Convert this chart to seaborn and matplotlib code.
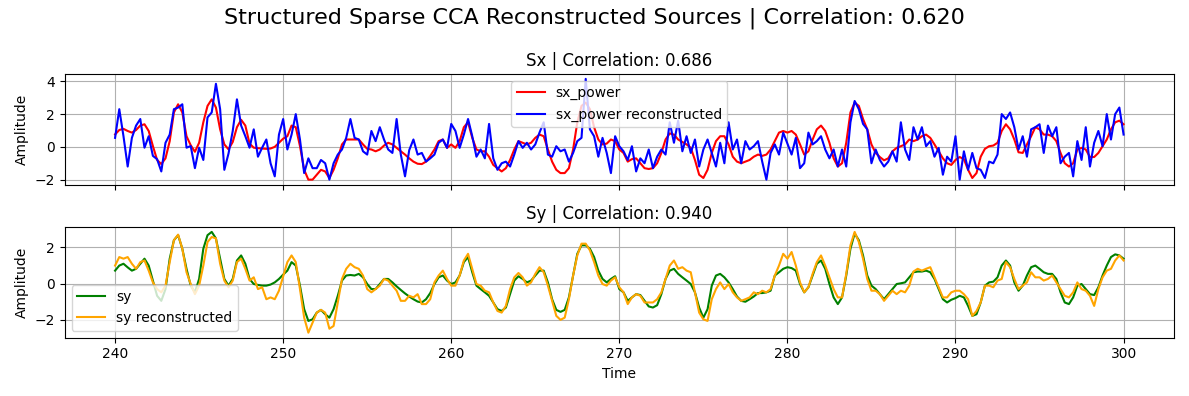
import numpy as np
import matplotlib
matplotlib.use("Agg")
import matplotlib.pyplot as plt
from matplotlib.ticker import MultipleLocator
import seaborn as sns

# values, one every 0.25 time units (240 -> 300)
sx_power = [
    0.76, 1.03, 1.1, 0.97, 0.87, 1.03, 1.3, 1.38, 0.97, 0.05, -0.8, -1.05, -0.7, 0.35, 2.1, 2.6, 2.1, 0.65, 0.1, -0.3,
    0.25, 1.5, 2.5, 2.9, 2.4, 1.07, 0.15, -0.15, 0.3, 1.2, 1.65, 1.3, 0.2, -0.05, -0.08, -0.1, -0.12, -0.1, 0.0, 0.25, 0.5,
    0.65, 1.3, 1.2, 0.05, -1.4, -2.0, -2.0, -1.7, -1.4, -1.5, -1.9, -1.4, -0.7, 0.15, 0.45, 0.45, 0.45, 0.45, 0.15, -0.12,
    -0.16, -0.27, -0.16, 0.08, 0.25, 0.15, -0.06, -0.27, -0.47, -0.7, -0.9, -1.03, -1.05, -0.9, -0.55, -0.16, 0.35, 0.45, -0.06, 0.15,
    -0.06, 0.35, 1.2, 1.5, 0.55, -0.16, -0.27, -0.27, -0.6, -1.1, -1.3, -1.5, -1.3, -0.8, -0.16, 0.35, 0.25, 0.15, 0.25, 0.55,
    0.75, 0.65, -0.16, -0.9, -1.4, -1.6, -1.6, -1.3, -0.16, 1.5, 2.5, 2.7, 2.3, 1.2, 0.45, 0.15, 0.2, 0.45, 0.35, -0.16,
    -0.37, -0.9, -0.75, -0.7, -1.0, -1.3, -1.35, -1.3, -1.0, -0.37, 0.45, 0.82, 0.75, 0.45, 0.3, 0.15, -0.06, -0.8, -1.7, -1.9,
    -1.4, -0.37, 0.35, 0.65, 0.65, 0.15, -0.6, -0.9, -1.0, -0.9, -0.8, -0.6, -0.47, -0.55, -0.47, -0.16, 0.35, 0.87, 0.97, 0.87,
    0.97, 0.75, 0.15, -0.47, -0.27, 0.45, 1.07, 1.3, 0.97, 0.25, -0.7, -1.2, -1.0, 0.25, 2.1, 2.7, 2.5, 1.7, 1.07, 0.15,
    -0.37, -0.62, -0.82, -0.7, -0.27, -0.06, 0.04, 0.15, 0.45, 0.35, 0.45, 0.65, 0.75, 0.55, 0.15, -0.27, -0.7, -1.0, -1.1, -0.8,
    -0.62, -0.75, -1.4, -1.9, -1.6, -0.6, -0.12, 0.04, 0.08, 0.25, 0.97, 1.38, 1.07, 0.45, -0.33, -0.37, 0.15, 0.65, 1.2, 1.07,
    0.75, 0.75, 0.65, 0.35, -0.37, -1.0, -1.2, -1.0, -0.16, -0.06, -0.16, -0.62, -0.62, -0.37, 0.04, 0.45, 1.07, 1.5, 1.6, 1.38,
]
sx_recon = [
    0.55, 2.3, 0.65, -1.2, 0.55, 1.3, 1.7, -0.05, 0.65, -0.55, -0.75, -1.5, 0.25, 0.75, 2.3, 2.4, 2.6, -0.05, 0.05, -1.3,
    -0.05, -0.8, 1.8, 2.1, 3.85, 2.3, -1.4, -0.4, 0.97, 2.9, 1.3, 0.65, -0.05, 1.07, -0.6, -0.05, 0.45, -1.0, -1.8, 0.75, 1.7,
    -0.16, 0.75, 2.0, 0.45, -1.6, -0.7, -1.3, -1.3, -0.8, -1.0, -2.0, -1.0, -0.47, -0.16, 0.55, 1.7, 0.55, 0.45, -0.27, -0.47,
    0.97, 0.35, 1.2, 0.45, -0.16, -0.37, 1.7, -0.47, -1.8, -0.2, 0.45, -0.47, -0.37, -0.9, -0.7, -0.47, 0.25, 0.45, -0.06, 1.4,
    0.97, -0.06, 0.75, 1.7, 0.65, -0.6, -0.16, -0.7, 1.4, -0.7, -1.4, -1.0, -0.9, -1.2, -0.47, 0.35, -0.06, 0.25, -0.16, 0.15,
    0.87, 1.5, -0.47, -0.6, 0.04, -0.27, -0.16, -0.9, -0.37, 0.35, 0.55, 4.15, 1.07, 0.65, -0.6, 0.55, -0.37, -1.6, 0.65, 0.04,
    -0.27, -0.8, 0.04, -1.5, -0.7, -1.0, -0.16, -1.3, -0.6, -0.16, -0.47, 1.5, 0.25, 1.6, -0.27, 0.65, -0.37, 0.45, -1.2, -0.16,
    0.45, -0.37, -1.2, 0.25, -1.0, 1.5, -0.16, 0.45, -1.0, 0.35, -0.16, 0.04, 0.35, -0.9, -2.0, -0.37, 0.15, -0.47, 0.87, 0.2,
    -0.47, 0.55, -1.3, -1.0, 0.87, 0.15, 0.35, 0.65, -0.16, -0.7, -0.16, -1.2, -0.16, -1.2, 1.5, 2.8, 2.3, 1.4, 1.07, -1.0,
    -0.16, -0.8, -1.2, -0.9, -0.27, -0.9, 1.5, -0.16, -0.8, 1.2, 0.45, 1.2, 0.04, 0.35, -0.6, -0.06, -1.7, -0.6, -0.9, 0.65,
    -2.0, -0.27, -1.4, -0.37, -1.3, -1.4, -1.9, -0.9, -1.0, -0.47, 2.0, 1.7, 2.1, 1.2, -0.16, 0.65, -0.6, 1.07, 1.2, 1.38,
    -0.37, 1.3, 0.65, 1.2, -1.0, -0.6, -0.37, -1.8, 0.35, -0.8, 1.2, -1.2, 0.25, 0.97, 0.04, 2.0, 0.45, 2.0, 2.4, 0.75,
]
sy = [
    0.72, 1.0, 1.1, 0.9, 0.72, 0.82, 1.1, 1.38, 1.0, 0.17, -0.67, -0.95, -0.3, 1.38, 2.4, 2.68, 1.93, 0.82, -0.11, -0.48,
    0.26, 1.93, 2.68, 2.86, 2.5, 1.38, 0.26, -0.11, 0.26, 1.28, 1.56, 1.1, 0.26, -0.02, -0.07, -0.11, -0.11, -0.05, 0.07, 0.26, 0.5,
    0.72, 1.19, 1.0, -0.11, -1.41, -2.06, -1.97, -1.6, -1.45, -1.69, -1.88, -1.41, -0.67, 0.17, 0.45, 0.48, 0.45, 0.54, 0.35, -0.02,
    -0.3, -0.3, -0.02, 0.26, 0.26, 0.07, -0.15, -0.35, -0.54, -0.71, -0.86, -0.99, -1.04, -0.86, -0.52, -0.02, 0.35, 0.45, 0.17, -0.02,
    0.07, 0.45, 1.19, 1.47, 0.63, -0.11, -0.3, -0.48, -0.67, -1.04, -1.41, -1.51, -1.32, -0.58, 0.17, 0.41, 0.26, 0.07, 0.17, 0.45,
    0.72, 0.72, 0.07, -0.86, -1.45, -1.56, -1.45, -0.76, 0.45, 1.65, 2.12, 2.12, 1.93, 1.47, 0.72, 0.26, 0.07, 0.26, 0.41, -0.3,
    -0.48, -0.95, -0.76, -0.58, -0.63, -0.95, -1.26, -1.32, -1.19, -0.58, 0.26, 0.72, 0.82, 0.54, 0.35, 0.17, -0.02, -0.48, -1.32, -1.88,
    -1.41, -0.11, 0.45, 0.54, 0.35, 0.07, -0.3, -0.71, -0.95, -1.0, -0.86, -0.71, -0.52, -0.52, -0.48, -0.39, 0.45, 0.63, 0.82, 0.91,
    0.86, 0.72, -0.02, -0.48, -0.2, 0.45, 1.1, 1.28, 0.82, -0.02, -0.76, -1.13, -0.76, 0.45, 1.93, 2.77, 2.4, 1.56, 0.45, -0.11,
    -0.3, -0.58, -0.86, -0.58, -0.3, -0.02, 0.02, 0.07, 0.35, 0.63, 0.67, 0.67, 0.72, 0.63, 0.26, -0.3, -0.86, -1.04, -0.89, -0.8,
    -0.67, -0.76, -1.23, -1.78, -1.69, -1.04, -0.11, 0.07, 0.11, 0.35, 1.0, 1.28, 1.0, 0.07, -0.39, -0.11, 0.45, 0.91, 1.0, 0.82,
    0.63, 0.54, 0.54, 0.26, -0.48, -1.04, -1.13, -0.76, -0.11, -0.02, -0.3, -0.58, -0.63, -0.2, 0.45, 1.0, 1.47, 1.62, 1.56, 1.38,
]
sy_recon = [
    1.0, 1.47, 1.38, 1.47, 1.1, 0.82, 1.19, 1.28, 0.72, 0.07, -0.3, -0.48, -0.11, 1.19, 2.4, 2.71, 1.93, 0.63, -0.02, -0.58,
    -0.11, 1.0, 2.3, 2.58, 2.5, 1.1, 0.17, -0.2, 0.17, 1.19, 1.38, 0.82, 0.17, 0.35, -0.3, -0.2, -0.86, -0.76, -0.86, -0.39, 0.4,
    1.19, 1.56, 1.19, -0.3, -1.88, -2.71, -2.16, -1.6, -1.45, -1.6, -2.49, -2.34, -1.04, 0.26, 0.82, 1.1, 0.91, 0.82, 0.45, -0.3,
    -0.48, -0.3, -0.11, 0.26, 0.17, -0.11, -0.39, -0.95, -0.95, -0.67, -0.76, -0.58, -1.13, -1.13, -0.86, 0.07, 0.45, 0.72, 0.26, -0.11,
    -0.11, 0.45, 1.28, 1.65, 0.82, -0.02, -0.11, -0.39, -0.48, -1.04, -1.51, -1.6, -1.23, -0.3, 0.35, 0.59, 0.35, -0.11, 0.07, 0.54,
    0.91, 0.63, -0.11, -0.95, -1.78, -2.0, -1.88, -0.86, 0.45, 1.56, 2.21, 2.21, 1.84, 1.19, 0.45, -0.02, -0.11, 0.17, 0.35, -0.2,
    -0.48, -1.13, -0.76, -0.58, -0.67, -1.04, -1.04, -1.04, -0.86, -0.48, 0.26, 1.0, 1.28, 0.82, 0.91, 0.72, 0.63, -0.48, -1.6, -1.97,
    -2.06, -0.86, -0.3, 0.07, -0.3, -0.02, -0.48, -0.76, -0.95, -0.86, -0.76, -0.48, -0.58, -0.39, -0.48, -0.3, 0.45, 1.0, 1.65, 1.38,
    1.75, 1.0, 0.07, -0.48, -0.2, 0.54, 1.19, 1.56, 1.0, 0.35, -0.3, -0.76, -0.76, 0.54, 2.12, 2.86, 2.3, 1.38, 0.26, -0.39,
    -0.39, -0.58, -0.95, -0.67, -0.39, -0.58, -0.39, -0.48, -0.11, 0.67, 0.82, 0.72, 0.82, 0.91, 0.35, -0.2, -0.76, -0.76, -0.48, -0.39,
    -0.39, -0.58, -0.86, -1.78, -1.51, -1.04, -0.11, -0.11, -0.2, 0.17, 0.26, 1.19, 0.91, 0.26, -0.3, -0.11, 0.07, 0.63, 0.35, 0.35,
    0.17, 0.26, 0.45, 0.07, -0.3, -0.67, -0.76, -0.48, 0.07, -0.3, -0.39, -0.67, -1.23, -0.3, 0.35, 0.72, 0.82, 1.28, 1.56, 1.28,
]

time = np.linspace(240, 300, len(sx_power))

fig, axes = plt.subplots(2, 1, figsize=(11.89, 3.96), dpi=100, sharex=True)

# Sx panel
ax = axes[0]
sns.lineplot(x=time, y=sx_power, color="red", label="sx_power", ax=ax)
sns.lineplot(x=time, y=sx_recon, color="blue", label="sx_power reconstructed", ax=ax)
ax.set_title("Sx | Correlation: 0.686")
ax.set_ylabel("Amplitude")
ax.yaxis.set_major_locator(MultipleLocator(2))
ax.grid(True)
ax.legend(loc="upper center")

# Sy panel
ax = axes[1]
sns.lineplot(x=time, y=sy, color="green", label="sy", ax=ax)
sns.lineplot(x=time, y=sy_recon, color="orange", label="sy reconstructed", ax=ax)
ax.set_title("Sy | Correlation: 0.940")
ax.set_ylabel("Amplitude")
ax.set_xlabel("Time")
ax.yaxis.set_major_locator(MultipleLocator(2))
ax.grid(True)
ax.legend(loc="lower left")

fig.suptitle("Structured Sparse CCA Reconstructed Sources | Correlation: 0.620", fontsize=16)
plt.tight_layout()
plt.savefig("out.png")
